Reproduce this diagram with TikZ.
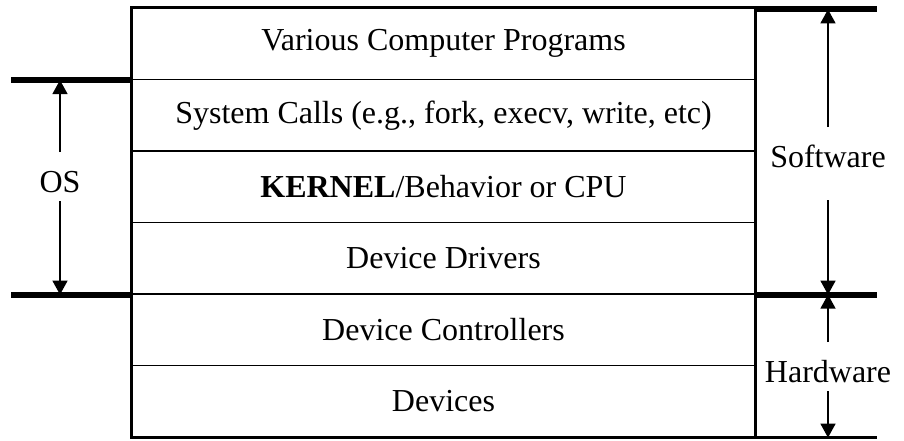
\documentclass[tikz,border=0pt]{standalone}
\usepackage{fontspec}
\setmainfont{Liberation Serif}
\usetikzlibrary{arrows.meta}

\tikzset{
    layer/.style={draw, line width=0.6pt, minimum width=311.5pt, minimum height=35.75pt,
        inner sep=0pt, font=\fontsize{16}{19}\selectfont},
    lbl/.style={inner xsep=2pt, inner ysep=4.5pt, text height=15.2pt, text depth=0pt,
        font=\fontsize{16}{19}\selectfont},
    bar/.style={line width=3pt},
    arr/.style={line width=0.8pt, -{Triangle[length=7pt,width=7.5pt]}}
}

\begin{document}
\begin{tikzpicture}[x=0.5pt, y=-0.5pt]
    \useasboundingbox (0,0) rectangle (904,440);

    % the layers
    \node[layer] (prog) at (443.5,43.75) {Various Computer Programs};
    \node[layer] (sys) at (443.5,115.25) {System Calls (e.g., fork, execv, write, etc)};
    \node[layer] (kern) at (443.5,186.75) {\textbf{KERNEL}/Behavior or CPU};
    \node[layer] (drv) at (443.5,258.25) {Device Drivers};
    \node[layer] (ctrl) at (443.5,329.75) {Device Controllers};
    \node[layer] (dev) at (443.5,401.25) {Devices};
    \draw[line width=1pt] (prog.north west) rectangle (dev.south east);

    % bars
    \draw[bar] (prog.south west) -- ++(-120,0);
    \draw[bar] (drv.south west) -- ++(-120,0);
    \draw[bar] (prog.north east) ++(0,2) -- ++(121,0);
    \draw[bar] (drv.south east) -- ++(121,0);
    \draw[line width=1.2pt] (dev.south east) -- ++(121,0);

    % labels
    \node[lbl, anchor=base] (os) at (60,192) {OS};
    \node[lbl, anchor=base, text depth=12pt] (sw) at (828,167) {Software};
    \node[lbl, anchor=base] (hw) at (828,382) {Hardware};

    \path[arr] (os) edge (os |- prog.south);
    \path[arr] (os) edge (os |- drv.south);
    \path[arr] (sw) edge ([yshift=-1pt]sw |- prog.north);
    \path[arr] (sw) edge (sw |- drv.south);
    \path[arr] (hw) edge (hw |- drv.south);
    \path[arr] (hw) edge (hw |- dev.south);
\end{tikzpicture}
\end{document}
